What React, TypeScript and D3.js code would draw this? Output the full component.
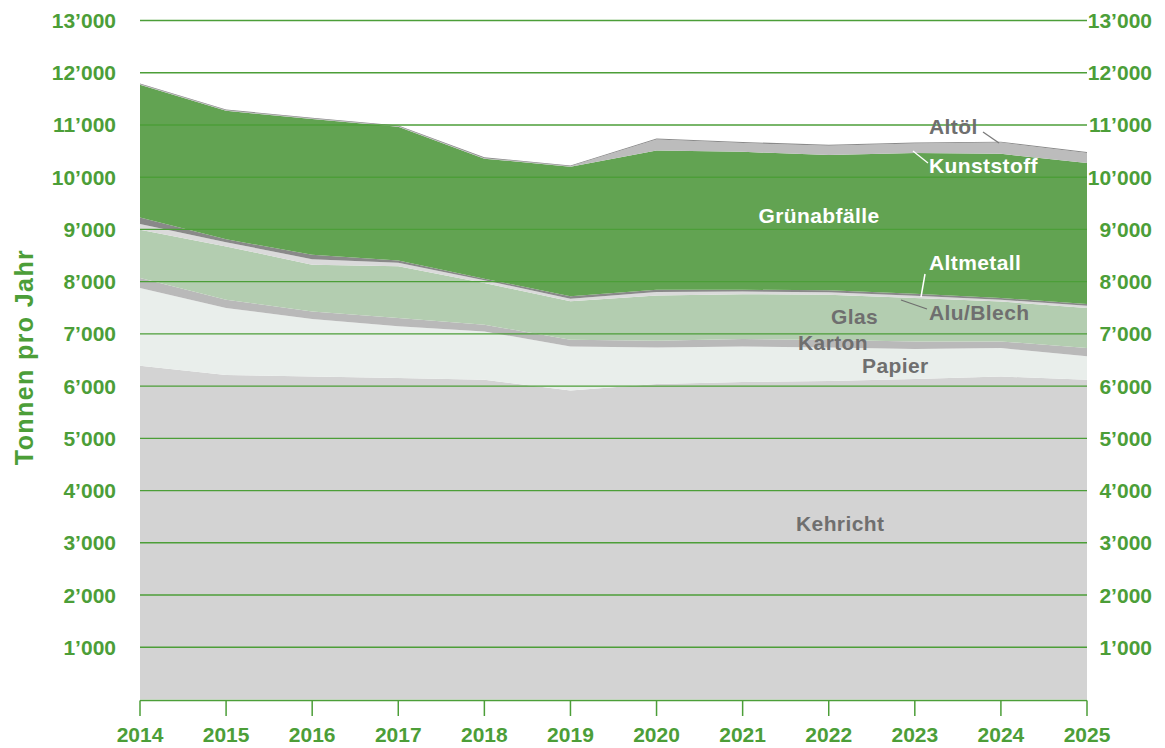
import * as d3 from 'd3';

const years = [2014, 2015, 2016, 2017, 2018, 2019, 2020, 2021, 2022, 2023, 2024, 2025];

// tonnes per year (bottom to top)
const kehricht = [6390, 6215, 6185, 6155, 6120, 5915, 6040, 6080, 6100, 6135, 6185, 6120];
const papier = [1490, 1280, 1100, 990, 925, 845, 700, 680, 640, 575, 545, 450];
const karton = [190, 160, 145, 160, 130, 130, 130, 140, 145, 145, 125, 160];
const glas = [925, 1020, 895, 990, 800, 735, 865, 860, 865, 830, 765, 765];
const aluBlech = [110, 80, 105, 65, 50, 50, 65, 50, 45, 45, 32, 44];
const altmetall = [125, 55, 85, 45, 30, 45, 45, 35, 40, 40, 35, 32];
const gruenabfaelle = [2540, 2460, 2600, 2560, 2300, 2480, 2665, 2640, 2590, 2695, 2760, 2700];
const kunststoff = [10, 10, 10, 10, 10, 10, 210, 170, 175, 180, 215, 192];
const altoel = [15, 15, 15, 15, 15, 15, 20, 20, 20, 20, 18, 18];

const yTicks = [1000, 2000, 3000, 4000, 5000, 6000, 7000, 8000, 9000, 10000, 11000, 12000, 13000];

const series = [
  { key: 'Kehricht', values: kehricht, color: '#d3d3d3' },
  { key: 'Papier', values: papier, color: '#e9eeeb' },
  { key: 'Karton', values: karton, color: '#b9b9b9' },
  { key: 'Glas', values: glas, color: '#b3cdb0' },
  { key: 'Alu/Blech', values: aluBlech, color: '#dadada' },
  { key: 'Altmetall', values: altmetall, color: '#898989' },
  { key: 'Grünabfälle', values: gruenabfaelle, color: '#62a352' },
  { key: 'Kunststoff', values: kunststoff, color: '#bcbcbc' },
  { key: 'Altöl', values: altoel, color: '#8a8a8a' },
];

const GREEN = '#4c9e38';
const GRAYTXT = '#6f6f6f';
const FONT = '"Liberation Sans", Arial, sans-serif';

const fmt = (v: number) => {
  const s = String(v);
  return s.slice(0, s.length - 3) + '\u2019' + s.slice(-3);
};

export default function App() {
  const width = 1165;
  const height = 748;
  const left = 140;
  const right = 1087;

  const x = d3.scaleLinear().domain([2014, 2025]).range([left, right]);
  const y = d3.scaleLinear().domain([0, 13000]).range([699.5, 20.5]);

  const table = years.map((yr, i) => {
    const row: any = { year: yr };
    series.forEach(s => (row[s.key] = s.values[i]));
    return row;
  });

  const stacked = d3.stack().keys(series.map(s => s.key))(table);

  const area = d3
    .area<any>()
    .x(d => x(d.data.year))
    .y0(d => y(d[0]))
    .y1(d => y(d[1]));

  const labelStyle = { fontFamily: FONT, fontWeight: 700, fontSize: 21, letterSpacing: 0.4 };

  return (
    <div style={{ position: 'absolute', left: 0, top: 0 }}>
      <svg width={width} height={height} style={{ display: 'block', background: '#fff' }}>
        {stacked.map((layer, i) => (
          <path key={layer.key} d={area(layer) || ''} fill={series[i].color} stroke="none" />
        ))}

        {yTicks.map(t => (
          <line key={t} x1={left} x2={right} y1={y(t)} y2={y(t)} stroke={GREEN} strokeWidth={1.4} />
        ))}

        <line x1={left} x2={right} y1={y(0) + 1} y2={y(0) + 1} stroke={GREEN} strokeWidth={1.5} />
        {years.map(yr => (
          <g key={yr}>
            <line x1={x(yr)} x2={x(yr)} y1={y(0) + 1} y2={716} stroke={GREEN} strokeWidth={1.5} />
            <text x={x(yr)} y={742} textAnchor="middle" fill={GREEN} style={{ ...labelStyle, fontSize: 21, letterSpacing: 0 }}>
              {yr}
            </text>
          </g>
        ))}

        {yTicks.map(t => (
          <g key={'l' + t}>
            <text x={116} y={y(t) + 7.5} textAnchor="end" fill={GREEN} style={{ ...labelStyle, letterSpacing: 0 }}>
              {fmt(t)}
            </text>
            <text x={1152} y={y(t) + 7.5} textAnchor="end" fill={GREEN} style={{ ...labelStyle, letterSpacing: 0 }}>
              {fmt(t)}
            </text>
          </g>
        ))}

        <text
          transform="translate(33,357) rotate(-90)"
          textAnchor="middle"
          fill={GREEN}
          style={{ fontFamily: FONT, fontWeight: 700, fontSize: 25, letterSpacing: 1.4 }}
        >
          Tonnen pro Jahr
        </text>

        {/* leader lines */}
        <line x1={983} y1={132} x2={999} y2={143} stroke="#7a7a7a" strokeWidth={1.3} />
        <line x1={913} y1={151} x2={928} y2={163} stroke="#ffffff" strokeWidth={1.3} />
        <line x1={925} y1={274} x2={921} y2={297} stroke="#ffffff" strokeWidth={1.5} />
        <line x1={901} y1={300} x2={927} y2={309} stroke="#6f6f6f" strokeWidth={1.3} />

        <text x={929} y={134} fill={GRAYTXT} style={labelStyle}>Altöl</text>
        <text x={929} y={173} fill="#fff" style={labelStyle}>Kunststoff</text>
        <text x={819} y={222.5} textAnchor="middle" fill="#fff" style={labelStyle}>Grünabfälle</text>
        <text x={929} y={270} fill="#fff" style={labelStyle}>Altmetall</text>
        <text x={929} y={320} fill={GRAYTXT} style={labelStyle}>Alu/Blech</text>
        <text x={831} y={323.5} fill={GRAYTXT} style={labelStyle}>Glas</text>
        <text x={798} y={350} fill={GRAYTXT} style={labelStyle}>Karton</text>
        <text x={862} y={372.5} fill={GRAYTXT} style={labelStyle}>Papier</text>
        <text x={796} y={531} fill={GRAYTXT} style={labelStyle}>Kehricht</text>
      </svg>
    </div>
  );
}
